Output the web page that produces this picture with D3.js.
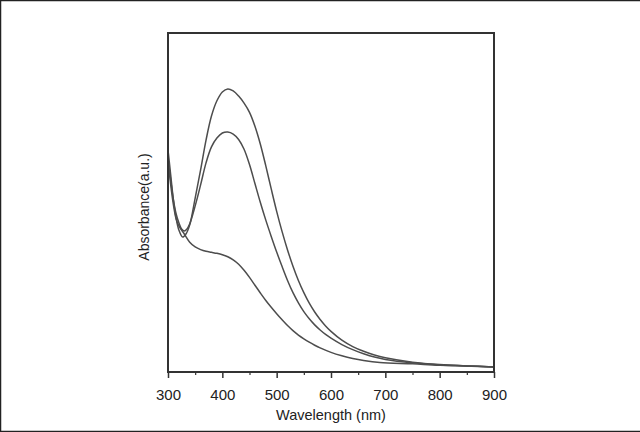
<!DOCTYPE html>
<html><head><meta charset="utf-8">
<script src="https://cdn.jsdelivr.net/npm/d3@7"></script>
<style>body{margin:0;background:#fff}svg{display:block}</style>
</head><body>
<script>
const wavelengthsA = [300,305,310,315,320,327,333,340,350,360,370,380,390,400,410,420,430,440,450,460,470,480,490,500,510,520,530,540,550,560,570,580,590,600,620,640,660,680,700,750,800,850,900];
const absorbA = [0.655,0.581,0.507,0.454,0.419,0.398,0.407,0.434,0.513,0.596,0.684,0.755,0.800,0.826,0.835,0.829,0.814,0.793,0.766,0.725,0.672,0.608,0.540,0.474,0.414,0.360,0.312,0.270,0.234,0.203,0.177,0.155,0.136,0.120,0.094,0.075,0.061,0.050,0.042,0.029,0.022,0.018,0.015];
const wavelengthsB = [300,305,310,315,320,325,330,335,340,350,360,370,380,390,400,410,420,430,440,450,460,470,480,490,500,510,520,530,540,550,560,570,580,590,600,620,640,660,680,700,750,800,850,900];
const absorbB = [0.631,0.566,0.507,0.466,0.440,0.422,0.416,0.422,0.437,0.490,0.552,0.617,0.664,0.690,0.705,0.708,0.702,0.686,0.657,0.612,0.556,0.500,0.448,0.400,0.354,0.311,0.270,0.234,0.204,0.178,0.157,0.139,0.124,0.111,0.100,0.081,0.066,0.054,0.044,0.037,0.027,0.021,0.018,0.015];
const wavelengthsC = [300,305,310,315,320,330,340,350,360,370,380,390,400,410,420,430,440,450,460,470,480,490,500,510,520,530,540,550,560,570,580,600,620,640,660,690,750,800,900];
const absorbC = [0.625,0.552,0.493,0.451,0.431,0.407,0.383,0.369,0.361,0.356,0.353,0.350,0.346,0.340,0.331,0.318,0.300,0.279,0.256,0.233,0.211,0.191,0.172,0.154,0.137,0.122,0.109,0.098,0.088,0.079,0.071,0.058,0.048,0.040,0.034,0.028,0.024,0.020,0.015];
const xTicks = [300,400,500,600,700,800,900];
const xMinorTicks = [350,450,550,650,750,850];
const xLabel = "Wavelength (nm)";
const yLabel = "Absorbance(a.u.)";

const W = 640, H = 432;
const L = 168, R = 494, T = 33, B = 372;
const svg = d3.select("body").append("svg").attr("width", W).attr("height", H);
svg.append("rect").attr("width", W).attr("height", H).attr("fill", "#fff");
svg.append("line").attr("x1",0).attr("x2",W).attr("y1",0.5).attr("y2",0.5).attr("stroke","#222").attr("stroke-width",1.5);
svg.append("line").attr("x1",0.5).attr("x2",0.5).attr("y1",0).attr("y2",H).attr("stroke","#222").attr("stroke-width",1.5);
svg.append("line").attr("x1",0).attr("x2",W).attr("y1",H-0.5).attr("y2",H-0.5).attr("stroke","#222").attr("stroke-width",1.5);

const x = d3.scaleLinear().domain([300,900]).range([L,R]);
const y = d3.scaleLinear().domain([0,1]).range([B,T]);

const line = d3.line().x(d=>x(d[0])).y(d=>y(d[1])).curve(d3.curveCatmullRom.alpha(0.5));
const series = [
  d3.zip(wavelengthsA, absorbA),
  d3.zip(wavelengthsB, absorbB),
  d3.zip(wavelengthsC, absorbC)
];
svg.append("g").selectAll("path").data(series).join("path")
  .attr("d", line).attr("fill","none").attr("stroke","#4d4d4d").attr("stroke-width",1.5);

svg.append("rect").attr("x",L).attr("y",T).attr("width",R-L).attr("height",B-T)
  .attr("fill","none").attr("stroke","#333").attr("stroke-width",2);

const font = "'Liberation Sans', Arial, sans-serif";
const gx = svg.append("g").attr("transform",`translate(0,${B})`)
  .call(d3.axisBottom(x).tickValues(xTicks).tickFormat(d3.format("d")).tickSize(6).tickPadding(11));
gx.select(".domain").remove();
gx.selectAll("line").attr("stroke","#333").attr("stroke-width",1.5);
gx.selectAll("text").attr("font-family",font).attr("font-size",15).attr("fill","#222");
const gxm = svg.append("g").attr("transform",`translate(0,${B})`)
  .call(d3.axisBottom(x).tickValues(xMinorTicks).tickSize(3).tickFormat(""));
gxm.select(".domain").remove();
gxm.selectAll("line").attr("stroke","#333").attr("stroke-width",1.2);

svg.append("text").attr("x",(L+R)/2).attr("y",420).attr("text-anchor","middle")
  .attr("font-family",font).attr("font-size",14.5).attr("fill","#222").text(xLabel);
svg.append("text").attr("transform",`translate(149,207) rotate(-90)`).attr("text-anchor","middle")
  .attr("font-family",font).attr("font-size",14).attr("fill","#222").text(yLabel);
</script>
</body></html>
